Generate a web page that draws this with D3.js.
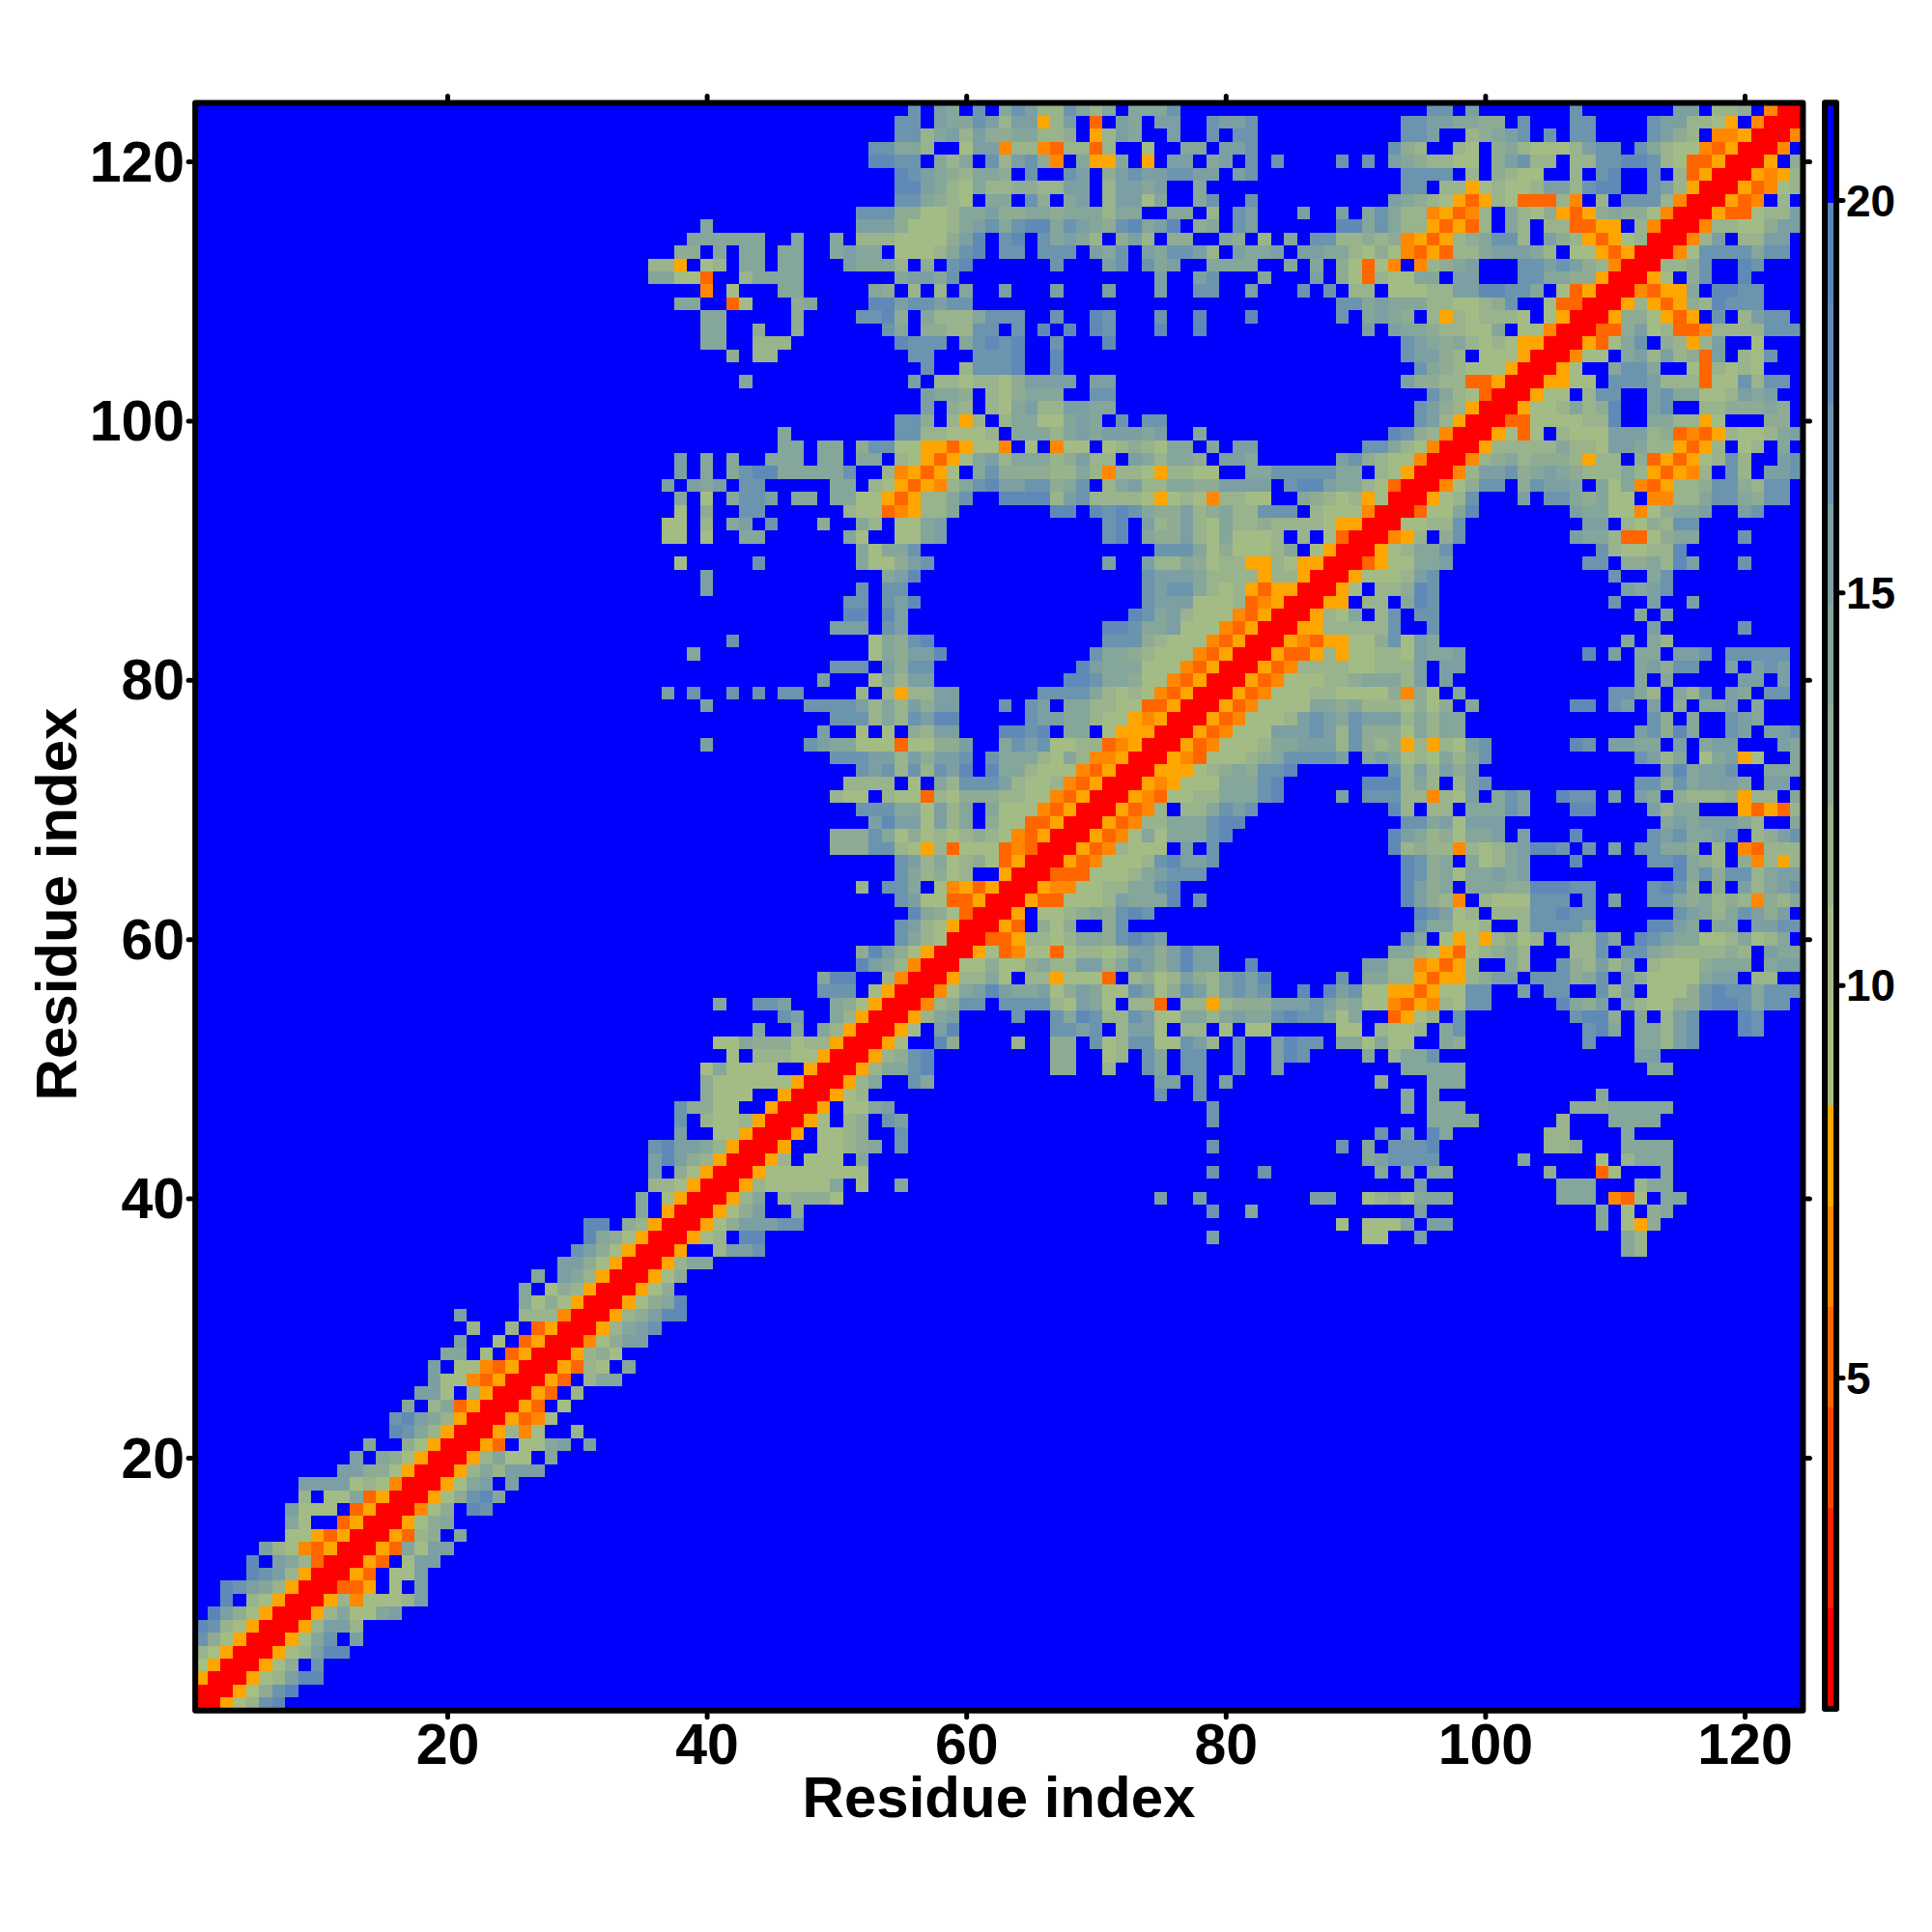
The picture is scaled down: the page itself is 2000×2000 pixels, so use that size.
<!DOCTYPE html>
<html><head><meta charset="utf-8"><style>html,body{margin:0;background:#fff}svg{display:block}text{font-family:"Liberation Sans",Arial,sans-serif;font-weight:700;fill:#000}</style>
<script src="https://cdn.jsdelivr.net/npm/d3@7"></script></head><body><svg id="c" width="2000" height="2000"></svg>
<script>
const residueTicks=[20,40,60,80,100,120];
const barTicks=[5,10,15,20];
const axisTitle="Residue index";
const residueCount=124;
const barDomain=[0.78,21.24];
const palette=["#ff0000","#ff2200","#ff4400","#ff6600","#ff8800","#ffa500","#a6bf82","#a3bc85","#99b38c","#8fab93","#85a69b","#7c9fa4","#6b94ae","#5f8ab8","#5a85bc","#0000ff"];
// Lower-left half of the symmetric distance map: one entry per residue row, as
// [first column, band digits]. Digit = colour band (0 red ... e steel blue, f blue); gaps are band f.
const triangleRows=[
[[1,"0"]],[[1,"00"]],[[1,"500"]],[[1,"6500"]],[[1,"86500"]],[[1,"c97500"]],[[1,"dc87500"]],
[[2,"eb97500"]],[[3,"df87500"]],[[3,"dcba8500"]],[[5,"dcb8500"]],[[5,"dfba8300"]],[[6,"b8743500"]],
[[8,"7753500"]],[[8,"a7ff3500"]],[[8,"b777f3500"]],[[9,"8f77a3500"]],[[9,"bbbb787400"]],[[12,"bb997500"]],
[[13,"bfa97500"]],[[14,"aff97500"]],[[16,"dca8500"]],[[16,"cdba8500"]],[[17,"af8a3500"]],[[18,"bb7f8500"]],
[[19,"b7743500"]],[[19,"bf7743500"]],[[20,"aaf7f3500"]],[[21,"bff7f3500"]],[[22,"8ff8f3500"]],
[[21,"b"],[26,"888400"]],[[26,"a797500"]],[[26,"af798500"]],[[27,"afba8500"]],[[29,"bb97500"]],[[30,"cb97500"]],
[[31,"da97500"]],[[31,"ddf98500"]],[[35,"af500"]],[[35,"af7500"]],[[36,"887500"]],[[36,"bf97500"]],
[[36,"bdb98500"]],[[36,"cdbba8500"]],[[38,"bff77500"]],[[38,"cf8778500"]],[[38,"c9977ff500"]],[[40,"9777ff500"]],
[[40,"9777777500"]],[[40,"7a7777ff500"]],[[42,"7f88877500"]],[[41,"77a999788500"]],[[44,"affafa8500"]],
[[46,"cbffa8500"]],[[41,"a"],[44,"ccb"],[50,"a97500"]],[[49,"cccf7500"]],[[49,"addff8400"]],[[52,"dba8400"]],
[[52,"9db97500"]],[[55,"ca8700"]],[[55,"cb87500"]],[[56,"da97300"]],[[55,"cb7733500"]],[[52,"8fccaf7453500"]],
[[55,"ca8978ff500"]],[[55,"cb8a78973500"]],[[50,"999cc8758377734300"]],[[50,"999ca79787898743500"]],
[[53,"bdbb7b8af97733500"]],[[52,"cccaa7b8afa77743500"]],[[50,"877f877387999887743500"]],[[51,"8888f7fa8cccb877843500"]],
[[52,"cbc8c8cbdfdaa877743500"]],[[50,"cccbb8b9bbcfcaaa87a844500"]],[[40,"b"],[48,"cbaa77737799bffacbc778834500"]],
[[49,"bff7f7f98bbfffddcdfaaf755500"]],[[50,"ccc8a8cbddfffffcbbaa87754500"]],[[40,"b"],[48,"ccccb8a8b9bbfffcfcbfaa887733500"]],
[[37,"b"],[39,"c"],[42,"c"],[44,"c"],[46,"cc"],[52,"8f8588bb"],[66,"cccca878743500"]],
[[49,"b"],[53,"7a8bb"],[68,"ddcaa97743500"]],
[[50,"ccc"],[54,"b9cc"],[69,"dbaaa77743500"]],
[[39,"a"],[53,"7a9bbd"],[70,"caa9877743500"]],
[[42,"c"],[53,"7a9cd"],[71,"ccc9877743500"]],
[[50,"bbb"],[54,"cb"],[71,"ddcaab77743500"]],
[[51,"dd"],[54,"db"],[73,"dcab877743500"]],
[[51,"cc"],[54,"cbd"],[74,"cbbb777834500"]],
[[40,"b"],[52,"c"],[54,"cc"],[74,"cbcca878535500"]],
[[40,"b"],[54,"abd"],[74,"cbbba8888588500"]],
[[38,"7"],[44,"c"],[52,"a779bc"],[71,"b"],[74,"b88a978855875500"]],
[[52,"a7aac"],[75,"ccca797778af7500"]],
[[37,"77"],[40,"7"],[43,"aa"],[51,"a7"],[55,"77ab"],[71,"cd"],[74,"a99b87a7778f8f7300"]],
[[37,"77"],[40,"8"],[42,"ab"],[45,"c"],[49,"9"],[52,"a8"],[55,"77ab"],[71,"cd"],[74,"b89b87a889888875500"]],
[[38,"7"],[40,"9"],[43,"cc"],[51,"87734588a"],[67,"dd"],[70,"dcdca99b89a88cccf8777400"]],
[[38,"a"],[40,"7"],[42,"accb"],[47,"aa"],[50,"aa"],[52,"7753588ac"],[63,"dddd8bc88887578748877ffa98785700"]],
[[37,"bfbab"],[43,"cc"],[50,"aa"],[53,"8753548acdbbcc9acf8ab88aa99bbbbfcddbaa87300"]],
[[38,"b"],[40,"a"],[42,"acddaaaaac"],[54,"845357fac999988a8488758877ffaaccccc"+"aaf87500"]],
[[38,"b"],[40,"a"],[42,"a"],[45,"aaa"],[49,"aa"],[52,"aaf875357ab8aaa89b88fba8aa9fbba"],[89,"bc9877400"]],
[[46,"aa"],[49,"aa"],[52,"9cc7755357 74f7f477f789 87aafafbb".replace(/ /g,"")],[91,"cca87400"]],
[[46,"a"],[55,"cc887778faaa8ababbbab"],[78,"a"],[93,"dc98400"]],
[[55,"cc9f858f8aa77abafcfcc"],[95,"cb8500"]],
[[57,"bf98f87ab88bbaa"],[95,"cb98500"]],
[[57,"baa9f879aaaffcc"],[96,"ca87300"]],
[[43,"a"],[56,"bf8878879bbbbfbb"],[94,"b998833500"]],
[[57,"c"],[60,"8cccd"],[67,"d"],[95,"ca98777500"]],
[[42,"9"],[44,"88"],[56,"cc"],[61,"cccd"],[67,"d"],[94,"cbb98f777500"]],
[[40,"aa"],[44,"888"],[55,"dccc"],[60,"acdcd"],[67,"c"],[71,"d"],[94,"cba9a87875500"]],
[[40,"aa"],[44,"9"],[47,"9"],[54,"ca"],[57,"9988cc"],[64,"c"],[66,"d"],[68,"d"],[70,"dc"],[75,"d"],[78,"d"],[91,"bfbaa98877af77400"]],
[[40,"aa"],[47,"9"],[52,"ccd9"],[57,"a888accc"],[67,"c"],[70,"dc"],[75,"c"],[78,"d"],[82,"d"],[89,"c"],[91,"aba9f85878887f7500"]],
[[38,"aa"],[42,"37"],[47,"9a"],[53,"ddbccbcc"],[89,"ccabaaa887789cff73300"]],
[[40,"4"],[42,"7"],[46,"aa"],[53,"a9f8f8fa"],[63,"b"],[67,"b"],[71,"b"],[75,"b"],[78,"cc"],[82,"b"],[86,"c"],[88,"c"],[90,"88f77788bbddccaf73500"]],
[[36,"aa773"],[43,"8aaaa"],[55,"abbac"],[75,"b"],[78,"bc"],[83,"a"],[87,"b"],[89,"973877aafbbfffccaa99500"]],
[[36,"885f78faafaa"],[51,"baaa8f9fcd"],[67,"c"],[71,"bc"],[74,"cab"],[79,"aaaa"],[85,"a"],[87,"a"],[89,"97374f489abfffccbcb98400"]],
[[38,"99"],[41,"a"],[43,"aa"],[46,"aa"],[50,"abaaf7778acdfccfcccfbacfbaccb8fbaabfbbaa8797435388abbba8f7753500"]],
[[39,"aaaaaa"],[47,"a"],[50,"a"],[52,"88877779bdfcdfcaba8f9b8f99ffa9f8fafcc88989453589acc8fb985357800"]],
[[40,"a"],[52,"bbb97778abcacddacba9cdabdf9afcb"],[89,"ddaca8853538fa8f883355f8400"]],
[[52,"ccc99778aab99aa9aaa8aaffaaf8fcb"],[86,"b"],[89,"b"],[91,"aca8845348fa8795359a997400"]],
[[55,"cca987faafc9fabf8bb7affac"],[82,"c"],[93,"ba9875358733384f8fccc8400"]],
[[55,"ddba87a88998 8bbf8bbabffa".replace(/ /g,"")],[94,"ccf88578778bb8cddffcb8500"]],
[[55,"dcba98aa9fcffcbf9bcbbccbbfbc"],[94,"ccccf8f9877ff8fcdffcf83500"]],
[[53,"ddccfa8afc8bc94fa55af5fbbfabfcfc"],[89,"c"],[91,"c"],[93,"ba98877f9bc88f88ccddc8733500"]],
[[53,"ccaa8ff7bb488438838ff7ffaafbbc"],[93,"c98ff87f9a87778bccfca87743500"]],
[[55,"cc8ab8b99aa889f58baffbffcfcc"],[94,"ccbff89abcfcfccffffcb98f44500"]],
[[55,"ccfbaacb8bb58bf3fbafbbffcbbc"],[94,"ccbbaa99fcfffccffffcbb8875f400"]],
[[56,"cfbafcfacb88ca8afaaac"],[96,"cc"],[99,"b"],[107,"c"],[115,"bb"],[118,"889"],[122,"400"]]
];

const bandCount=palette.length;
const bandStep=(barDomain[1]-barDomain[0])/bandCount;
const color=d3.scaleQuantize().domain(barDomain).range(palette);
const matrix=d3.range(residueCount).map(()=>new Array(residueCount).fill(bandCount-1));
triangleRows.forEach((segs,ri)=>segs.forEach(([start,digits])=>{
  [...digits].forEach((ch,k)=>{const c=start-1+k;const b=parseInt(ch,16);
    if(c<residueCount&&ri<residueCount){matrix[ri][c]=b;matrix[c][ri]=b;}});
}));
const cells=[];
matrix.forEach((row,ri)=>row.forEach((b,ci)=>cells.push({x:ci+1,y:ri+1,v:barDomain[0]+(b+.5)*bandStep})));

const svg=d3.select("#c");
const x=d3.scaleLinear().domain([20,120]).range([463,1806]);
const y=d3.scaleLinear().domain([20,120]).range([1509,167]);
const frame={l:x(0.5)+1,r:x(124.5),t:y(124.5),b:y(0.5)};
const edgeX=v=>Math.round(x(v)),edgeY=v=>Math.round(y(v));
svg.append("g").selectAll("rect").data(cells).join("rect")
 .attr("x",d=>edgeX(d.x-.5)).attr("width",d=>edgeX(d.x+.5)-edgeX(d.x-.5))
 .attr("y",d=>edgeY(d.y+.5)).attr("height",d=>edgeY(d.y-.5)-edgeY(d.y+.5))
 .attr("fill",d=>color(d.v)).attr("shape-rendering","crispEdges");
svg.append("rect").attr("x",frame.l).attr("y",frame.t).attr("width",frame.r-frame.l).attr("height",frame.b-frame.t)
 .attr("fill","none").attr("stroke","#000").attr("stroke-width",6).attr("stroke-linejoin","round");

function styleAxis(g,size){
  g.select(".domain").remove();
  g.selectAll(".tick line").attr("stroke","#000").attr("stroke-width",5).attr("stroke-linecap","round");
  g.selectAll(".tick text").style("font-size",size+"px").attr("fill","#000");
}
svg.append("g").attr("transform",`translate(0,${frame.b+4})`)
 .call(d3.axisBottom(x).tickValues(residueTicks).tickSize(3).tickPadding(19))
 .call(g=>styleAxis(g,59))
 .call(g=>g.selectAll(".tick text").attr("dy",null).attr("y",null).attr("dominant-baseline","auto").attr("transform",`translate(0,${1826-(frame.b+4)})`));
svg.append("g").attr("transform",`translate(0,${frame.t-4})`)
 .call(d3.axisTop(x).tickValues(residueTicks).tickSize(3).tickFormat(""))
 .call(g=>styleAxis(g,59));
svg.append("g").attr("transform",`translate(${frame.l-4},0)`)
 .call(d3.axisLeft(y).tickValues(residueTicks).tickSize(3).tickPadding(6))
 .call(g=>styleAxis(g,59))
 .call(g=>g.selectAll(".tick text").attr("dy",null).attr("transform","translate(2,20)"));
svg.append("g").attr("transform",`translate(${frame.r+4},0)`)
 .call(d3.axisRight(y).tickValues(residueTicks).tickSize(3).tickFormat(""))
 .call(g=>styleAxis(g,59));
svg.append("text").attr("x",1034).attr("y",1881).attr("text-anchor","middle").style("font-size","60px").text(axisTitle);
svg.append("text").attr("transform","translate(79,936) rotate(-90)").attr("text-anchor","middle").style("font-size","60px").text(axisTitle);

// colour bar
const bar=d3.scaleLinear().domain([5,20]).range([1426,207]);
const barX=1889,barW=12;
const bands=palette.map((p,k)=>({k,lo:barDomain[0]+k*bandStep,hi:barDomain[0]+(k+1)*bandStep}));
svg.append("g").selectAll("rect").data(bands).join("rect")
 .attr("x",barX).attr("width",barW).attr("y",d=>bar(d.hi)).attr("height",d=>bar(d.lo)-bar(d.hi))
 .attr("fill",d=>color((d.lo+d.hi)/2)).attr("shape-rendering","crispEdges");
svg.append("rect").attr("x",barX).attr("y",bar(barDomain[1])).attr("width",barW).attr("height",bar(barDomain[0])-bar(barDomain[1]))
 .attr("fill","none").attr("stroke","#000").attr("stroke-width",6).attr("stroke-linejoin","round");
svg.append("g").attr("transform",`translate(${barX+barW+3},0)`)
 .call(d3.axisRight(bar).tickValues(barTicks).tickSize(4).tickPadding(3))
 .call(g=>styleAxis(g,46))
 .call(g=>g.selectAll(".tick text").attr("dy",null).attr("transform","translate(0,16)"));
</script></body></html>
